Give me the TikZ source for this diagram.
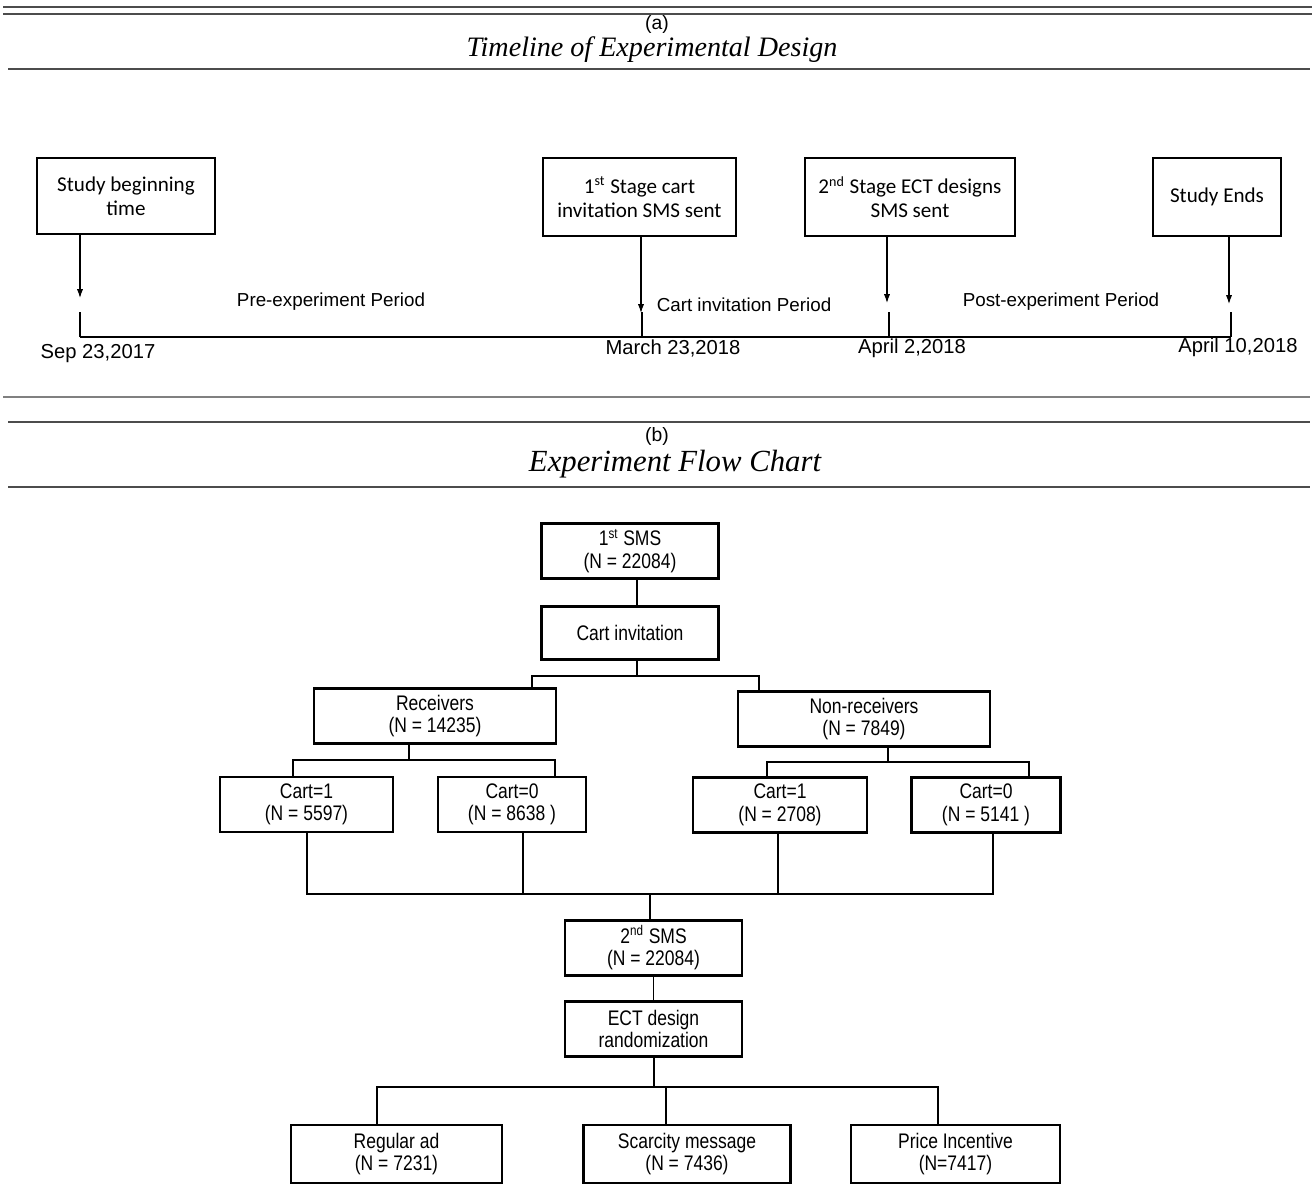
\documentclass[tikz,border=0pt]{standalone}
\usepackage{fontspec}
\setmainfont{Liberation Sans}
\newfontfamily\boxfont{Carlito}
\newfontfamily\flowfont[FakeStretch=0.83]{Liberation Sans}
\newfontfamily\titlefont{Liberation Serif}
\usepackage{tikz}
\usetikzlibrary{arrows.meta,calc}

\begin{document}
\begin{tikzpicture}[x=0.02cm, y=-0.02cm,
    stagebox/.style={draw, line width=1.1pt, align=center, inner sep=0pt, font=\boxfont\fontsize{12}{13.6}\selectfont},
    flowbox/.style={draw, line width=1.5pt, align=center, inner sep=0pt, minimum height=1.1cm, font=\flowfont\fontsize{12}{12.8}\selectfont},
    arr/.style={-{Latex[length=5pt,width=3.5pt]}, line width=0.6pt},
    link/.style={line width=0.8pt},
    rule/.style={line width=1.2pt, black!70},
    tick/.style={line width=1.6pt},
    period/.style={font=\fontsize{10.7}{12}\selectfont},
    date/.style={font=\fontsize{11.5}{13}\selectfont},
    panel/.style={font=\fontsize{11}{13}\selectfont},
    title/.style={font=\titlefont\itshape\fontsize{16}{18}\selectfont}
]
    \useasboundingbox (0,0) rectangle (1316,1198);

    % headings and rules
    \draw[rule] (3,7) -- (1312,7);
    \draw[rule] (3,14) -- (1312,14);
    \node[panel] (pa) at (657,24) {(a)};
    \node[title] (ta) at (652,50) {Timeline of Experimental Design};
    \draw[rule] (8,69) -- (1310,69);
    \draw[rule, black!50] (3,397) -- (1310,397);
    \draw[rule] (8,422) -- (1310,422);
    \node[panel] (pb) at (657,436) {(b)};
    \node[title, font=\titlefont\itshape\fontsize{17.5}{19}\selectfont] (tb) at (675,464) {Experiment Flow Chart};
    \draw[rule] (8,487) -- (1310,487);

    % (a) timeline
    \node[stagebox, minimum width=3.56cm, minimum height=1.52cm] (start) at (126,196) {Study beginning\\time};
    \node[stagebox, minimum width=3.86cm, minimum height=1.56cm] (stage1) at (639.5,197) {1\textsuperscript{st} Stage cart\\invitation SMS sent};
    \node[stagebox, minimum width=4.2cm, minimum height=1.56cm] (stage2) at (910,197) {2\textsuperscript{nd} Stage ECT designs\\SMS sent};
    \node[stagebox, minimum width=2.56cm, minimum height=1.56cm] (studyend) at (1217,197) {Study Ends};

    \coordinate (t0) at (80,337);
    \coordinate (t1) at (642,337);
    \coordinate (t2) at (889,337);
    \coordinate (t3) at (1231,337);
    \coordinate (a0) at (80,298);
    \coordinate (a1) at (641,313);
    \coordinate (a2) at (887,303);
    \coordinate (a3) at (1229,304);

    \draw[line width=1.2pt] (t0) -- (t3);
    \foreach \t in {t0,t1,t2,t3}
        \draw[tick] (\t) -- ++(0,-25);

    \draw[arr] (start.south -| a0) -- (a0);
    \draw[arr] (stage1.south -| a1) -- (a1);
    \draw[arr] (stage2.south -| a2) -- (a2);
    \draw[arr] (studyend.south -| a3) -- (a3);

    \node[period] (pre) at (331,302) {Pre-experiment Period};
    \node[period] (mid) at (744,305) {Cart invitation Period};
    \node[period] (post) at (1061,302) {Post-experiment Period};

    \node[date] (d0) at (98,354) {Sep 23,2017};
    \node[date] (d1) at (673,348) {March 23,2018};
    \node[date] (d2) at (912,348) {April 2,2018};
    \node[date] (d3) at (1238,347) {April 10,2018};

    % (b) flow chart
    \node[flowbox, minimum width=3.54cm] (sms1) at (630,551) {1\textsuperscript{st} SMS\\(N = 22084)};
    \node[flowbox, minimum width=3.54cm, minimum height=1.06cm] (invite) at (630,633) {Cart invitation};
    \node[flowbox, minimum width=4.84cm] (recv) at (435,716) {Receivers\\(N = 14235)};
    \node[flowbox, minimum width=5.04cm] (nonrecv) at (864,719) {Non-receivers\\(N = 7849)};
    \node[flowbox, minimum width=3.46cm] (rc1) at (306.5,804.5) {Cart=1\\(N = 5597)};
    \node[flowbox, minimum width=2.96cm] (rc0) at (512,804.5) {Cart=0\\(N = 8638 )};
    \node[flowbox, minimum width=3.48cm] (nc1) at (780,805) {Cart=1\\(N = 2708)};
    \node[flowbox, minimum width=2.98cm] (nc0) at (986,805) {Cart=0\\(N = 5141 )};
    \node[flowbox, minimum width=3.54cm] (sms2) at (653.5,948) {2\textsuperscript{nd} SMS\\(N = 22084)};
    \node[flowbox, minimum width=3.54cm] (ect) at (653.5,1029) {ECT design\\randomization};
    \node[flowbox, minimum width=4.22cm, minimum height=1.16cm] (regular) at (396.5,1154) {Regular ad\\(N = 7231)};
    \node[flowbox, minimum width=4.14cm, minimum height=1.16cm] (scarcity) at (687,1154) {Scarcity message\\(N = 7436)};
    \node[flowbox, minimum width=4.18cm, minimum height=1.16cm] (price) at (955.5,1154) {Price Incentive\\(N=7417)};

    % junctions
    \coordinate (j0) at (637,676);
    \coordinate (j1) at (532,676);
    \coordinate (j2) at (759,676);
    \coordinate (r0) at (409,760);
    \coordinate (r1) at (293,760);
    \coordinate (r2) at (555,760);
    \coordinate (n0) at (888,762);
    \coordinate (n1) at (767,762);
    \coordinate (n2) at (1029,762);
    \coordinate (m0) at (650,894);
    \coordinate (m1) at (307,894);
    \coordinate (m2) at (523,894);
    \coordinate (m3) at (778,894);
    \coordinate (m4) at (993,894);
    \coordinate (b0) at (654,1087);
    \coordinate (b1) at (377,1087);
    \coordinate (b2) at (666,1087);
    \coordinate (b3) at (938,1087);

    \draw[link] (sms1.south -| j0) -- (invite.north -| j0);
    \draw[link] (invite.south -| j0) -- (j0);
    \draw[link] (recv.north -| j1) -- (j1) -- (j2) -- (nonrecv.north -| j2);

    \draw[link] (recv.south -| r0) -- (r0);
    \draw[link] (rc1.north -| r1) -- (r1) -- (r2) -- (rc0.north -| r2);
    \draw[link] (nonrecv.south -| n0) -- (n0);
    \draw[link] (nc1.north -| n1) -- (n1) -- (n2) -- (nc0.north -| n2);

    \draw[link] (rc1.south -| m1) -- (m1) -- (m4) -- (nc0.south -| m4);
    \draw[link] (rc0.south -| m2) -- (m2);
    \draw[link] (nc1.south -| m3) -- (m3);
    \draw[link] (m0) -- (sms2.north -| m0);

    \draw[link] (sms2) -- (ect);
    \draw[link] (ect.south -| b0) -- (b0);
    \draw[link] (regular.north -| b1) -- (b1) -- (b3) -- (price.north -| b3);
    \draw[link] (b2) -- (scarcity.north -| b2);
\end{tikzpicture}
\end{document}
